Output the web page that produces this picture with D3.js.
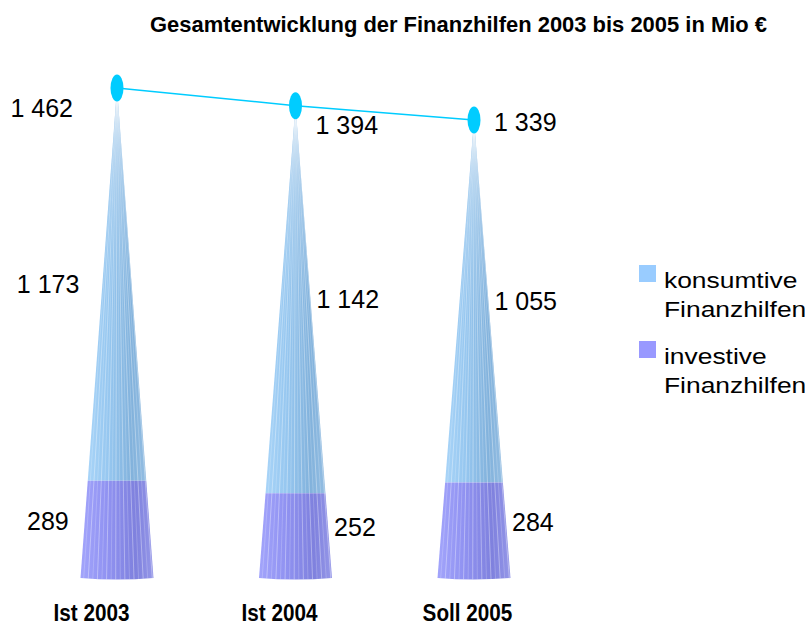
<!DOCTYPE html>
<html>
<head>
<meta charset="utf-8">
<script src="https://cdn.jsdelivr.net/npm/d3@7"></script>
<style>
  body { margin: 0; background: #fff; }
  svg { display: block; }
</style>
</head>
<body>
<div id="chart"></div>
<script>
// Finanzhilfen 2003-2005, Mio €
const years = ['Ist 2003', 'Ist 2004', 'Soll 2005'];
const investive = [289, 252, 284];
const konsumtive = [1173, 1142, 1055];
const totals = [1462, 1394, 1339];

const seriesNames = [['konsumtive', 'Finanzhilfen'], ['investive', 'Finanzhilfen']];
const seriesColors = ['#99ccff', '#9999ff'];

const W = 805, H = 628;
const BASE_Y = 578;
const HALF_BASE = 36.5;
const SANS = '"Liberation Sans", Arial, sans-serif';
const fmt = v => d3.format(',')(v).replace(/,/g, ' ');

const svg = d3.select('#chart').append('svg')
  .attr('width', W).attr('height', H);

const defs = svg.append('defs');

// horizontal shading for the cone faces
function shade(id, stops) {
  const lg = defs.append('linearGradient').attr('id', id)
    .attr('x1', 0).attr('x2', 1).attr('y1', 0).attr('y2', 0);
  stops.forEach(([o, c]) => lg.append('stop').attr('offset', o).attr('stop-color', c));
}
shade('g-kons', [[0, '#a8d4f8'], [0.35, '#96c7f0'], [0.75, '#82b2dc'], [1, '#93bde2']]);
shade('g-inv', [[0, '#a2a4fb'], [0.35, '#9193f2'], [0.75, '#7f81de'], [1, '#9597e8']]);

// squeeze a bold sans horizontally to mimic the condensed face of the original
function narrow(sel, k) {
  sel.each(function () {
    this.setAttribute('textLength', this.getComputedTextLength() * k);
    this.setAttribute('lengthAdjust', 'spacingAndGlyphs');
  });
}

svg.append('text')
  .attr('x', 150).attr('y', 32)
  .attr('textLength', 617)
  .attr('lengthAdjust', 'spacingAndGlyphs')
  .attr('font-family', SANS)
  .attr('font-weight', 'bold')
  .attr('font-size', 22)
  .text('Gesamtentwicklung der Finanzhilfen 2003 bis 2005 in Mio €');

const x = d3.scalePoint().domain(years).range([117, 474]);
// category labels sit on the perspective floor, slightly left of the cones
const xLabel = d3.scalePoint().domain(years).range([91, 467]);
const yBar = d3.scaleLinear().domain([0, 1462]).range([BASE_Y, 86]);
const yLine = d3.scaleLinear().domain([1339, 1462]).range([120, 88]);

const g = svg.append('g');

years.forEach((yr, i) => {
  const cx = x(yr);
  const top = yLine(totals[i]);
  const hw = y => HALF_BASE * (y - top) / (BASE_Y - top);
  const split = yBar(investive[i]);

  const cone = g.append('g');
  const clipId = `clip-${i}`;
  defs.append('clipPath').attr('id', clipId)
    .append('path')
    .attr('d', `M${cx},${top} L${cx + HALF_BASE},${BASE_Y} Q${cx},${BASE_Y + 3} ${cx - HALF_BASE},${BASE_Y} Z`);

  // konsumtive part (upper)
  cone.append('path')
    .attr('d', `M${cx},${top} L${cx + hw(split)},${split} L${cx - hw(split)},${split} Z`)
    .attr('fill', 'url(#g-kons)');
  // investive part (lower)
  cone.append('path')
    .attr('d', `M${cx - hw(split)},${split} L${cx + hw(split)},${split} L${cx + HALF_BASE},${BASE_Y} Q${cx},${BASE_Y + 3} ${cx - HALF_BASE},${BASE_Y} Z`)
    .attr('fill', 'url(#g-inv)');

  // facet stripes converging at apex
  const stripes = d3.range(-HALF_BASE + 3, HALF_BASE, 4.6);
  cone.append('g').attr('clip-path', `url(#${clipId})`)
    .selectAll('line').data(stripes).join('line')
    .attr('x1', cx).attr('y1', top)
    .attr('x2', d => cx + d).attr('y2', BASE_Y + 3)
    .attr('stroke', '#ffffff')
    .attr('stroke-opacity', (d, k) => k % 2 ? 0.4 : 0.22)
    .attr('stroke-width', 0.9);

  // value labels for segments
  const left = i === 0;
  const midK = (top + split) / 2;
  const midI = (split + BASE_Y) / 2 - 8;
  [[konsumtive[i], midK, left ? 23 : 6], [investive[i], midI, left ? 16 : 6]].forEach(([v, yy, gap]) => {
    g.append('text')
      .attr('x', left ? cx - hw(yy) - gap : cx + hw(yy) + gap)
      .attr('y', yy).attr('dy', '0.35em')
      .attr('text-anchor', left ? 'end' : 'start')
      .attr('font-family', SANS)
      .attr('font-size', 25)
      .text(fmt(v));
  });
});

// total line
const pts = years.map((yr, i) => [x(yr), yLine(totals[i])]);
g.append('path')
  .attr('d', d3.line()(pts))
  .attr('fill', 'none')
  .attr('stroke', '#00ccff')
  .attr('stroke-width', 1.5);

g.selectAll('.marker').data(pts).join('ellipse')
  .attr('class', 'marker')
  .attr('cx', d => d[0]).attr('cy', d => d[1])
  .attr('rx', 6.5).attr('ry', 13.5)
  .attr('fill', '#00ccff');

g.selectAll('.total-label').data(pts).join('text')
  .attr('class', 'total-label')
  .attr('x', (d, i) => i === 0 ? d[0] - 44 : d[0] + 20)
  .attr('y', (d, i) => d[1] + (i < pts.length - 1 ? 20 : 2))
  .attr('dy', '0.35em')
  .attr('text-anchor', (d, i) => i === 0 ? 'end' : 'start')
  .attr('font-family', SANS)
  .attr('font-size', 25)
  .text((d, i) => fmt(totals[i]));

// category axis
const axis = svg.append('g')
  .attr('transform', `translate(0, ${BASE_Y + 27})`)
  .call(d3.axisBottom(xLabel).tickSize(0).tickPadding(0));
axis.select('.domain').remove();
axis.selectAll('text')
  .attr('fill', '#000')
  .attr('font-family', SANS)
  .attr('font-weight', 'bold')
  .attr('font-size', 23)
  .call(narrow, 0.9);

// legend
const legend = svg.append('g').attr('transform', 'translate(639, 265)');
seriesNames.forEach((lines, k) => {
  const row = legend.append('g').attr('transform', `translate(0, ${k * 76})`);
  row.append('rect').attr('width', 17).attr('height', 17).attr('fill', seriesColors[k]);
  lines.forEach((t, j) => {
    row.append('text')
      .attr('transform', `translate(25, ${23 + j * 29}) scale(1.2, 1)`)
      .attr('font-family', SANS)
      .attr('font-size', 22)
      .text(t);
  });
});
</script>
</body>
</html>
